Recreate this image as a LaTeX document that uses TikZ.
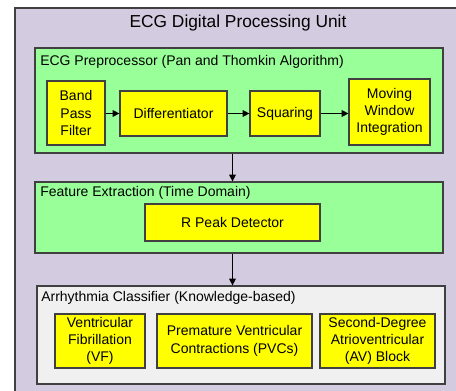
\documentclass[tikz,border=0pt]{standalone}
\usepackage{fontspec}
\setmainfont{Liberation Sans}
\usetikzlibrary{arrows.meta}
\definecolor{outerc}{HTML}{D3CBDF}
\definecolor{greenc}{HTML}{99FF99}
\definecolor{grayc}{HTML}{F0F0F0}
\definecolor{yelc}{HTML}{FFFF00}
\definecolor{edgec}{HTML}{404040}
\tikzset{
  px/.style={x=0.75pt,y=-0.75pt},
  container/.style={draw=edgec,line width=0.9pt,fill=greenc,inner sep=0pt},
  yelbox/.style={draw=edgec,line width=0.9pt,fill=yelc,inner sep=0pt,align=center,font=\fontsize{10.5}{13}\selectfont},
  lbl/.style={anchor=west,inner sep=0pt,font=\fontsize{10.5}{13}\selectfont},
  arr/.style={-{Triangle[length=5pt,width=5pt]},line width=0.8pt,draw=black}
}
\begin{document}
\begin{tikzpicture}[px]
\useasboundingbox (0,0) rectangle (456,391);
\clip (0,0) rectangle (456,391);
\draw[draw=edgec,line width=0.9pt,fill=outerc] (15,8) rectangle (470,405);
\node[inner sep=0pt,font=\fontsize{13}{15}\selectfont] (title) at (238,23) {ECG Digital Processing Unit};
% preprocessor
\node[container,minimum width=306pt,minimum height=78.75pt] (pre) at (239,100.5) {};
\node[lbl] (prel) at (40,62) {ECG Preprocessor (Pan and Thomkin Algorithm)};
\node[yelbox,minimum width=43.5pt,minimum height=48pt] (bpf) at (76,113) {Band\\Pass\\Filter};
\node[yelbox,minimum width=80.25pt,minimum height=33.75pt] (diff) at (173.5,113.5) {Differentiator};
\node[yelbox,minimum width=52.5pt,minimum height=33.75pt] (sq) at (285,113.5) {Squaring};
\node[yelbox,minimum width=60.75pt,minimum height=49.5pt] (mwi) at (389.5,112) {Moving\\Window\\Integration};
\draw[arr] (bpf.east |- diff.west) -- (diff.west);
\draw[arr] (diff.east) -- (sq.west);
\draw[arr] (sq.east) -- (mwi.west |- sq.east);
% feature extraction
\node[container,minimum width=306pt,minimum height=53.25pt] (feat) at (239,217.5) {};
\node[lbl] (featl) at (40,193) {Feature Extraction (Time Domain)};
\node[yelbox,minimum width=131.25pt,minimum height=27.75pt] (rpd) at (232.5,222.5) {R Peak Detector};
% classifier
\node[container,fill=grayc,minimum width=306pt,minimum height=73.5pt] (cls) at (241,335) {};
\node[lbl] (clsl) at (41,298) {Arrhythmia Classifier (Knowledge-based)};
\node[yelbox,minimum width=67.5pt,minimum height=40.5pt] (vf) at (100,341) {Ventricular\\Fibrillation\\(VF)};
\node[yelbox,minimum width=116.25pt,minimum height=40.5pt] (pvc) at (234.5,341) {Premature Ventricular\\Contractions (PVCs)};
\node[yelbox,minimum width=86.25pt,minimum height=40.5pt] (av) at (377.5,341) {Second-Degree\\Atrioventricular\\(AV) Block};
% vertical arrows
\draw[arr] (pre.south -| rpd.center) -- (feat.north -| rpd.center);
\draw[arr] (feat.south -| rpd.center) -- (cls.north -| rpd.center);
\end{tikzpicture}
\end{document}
